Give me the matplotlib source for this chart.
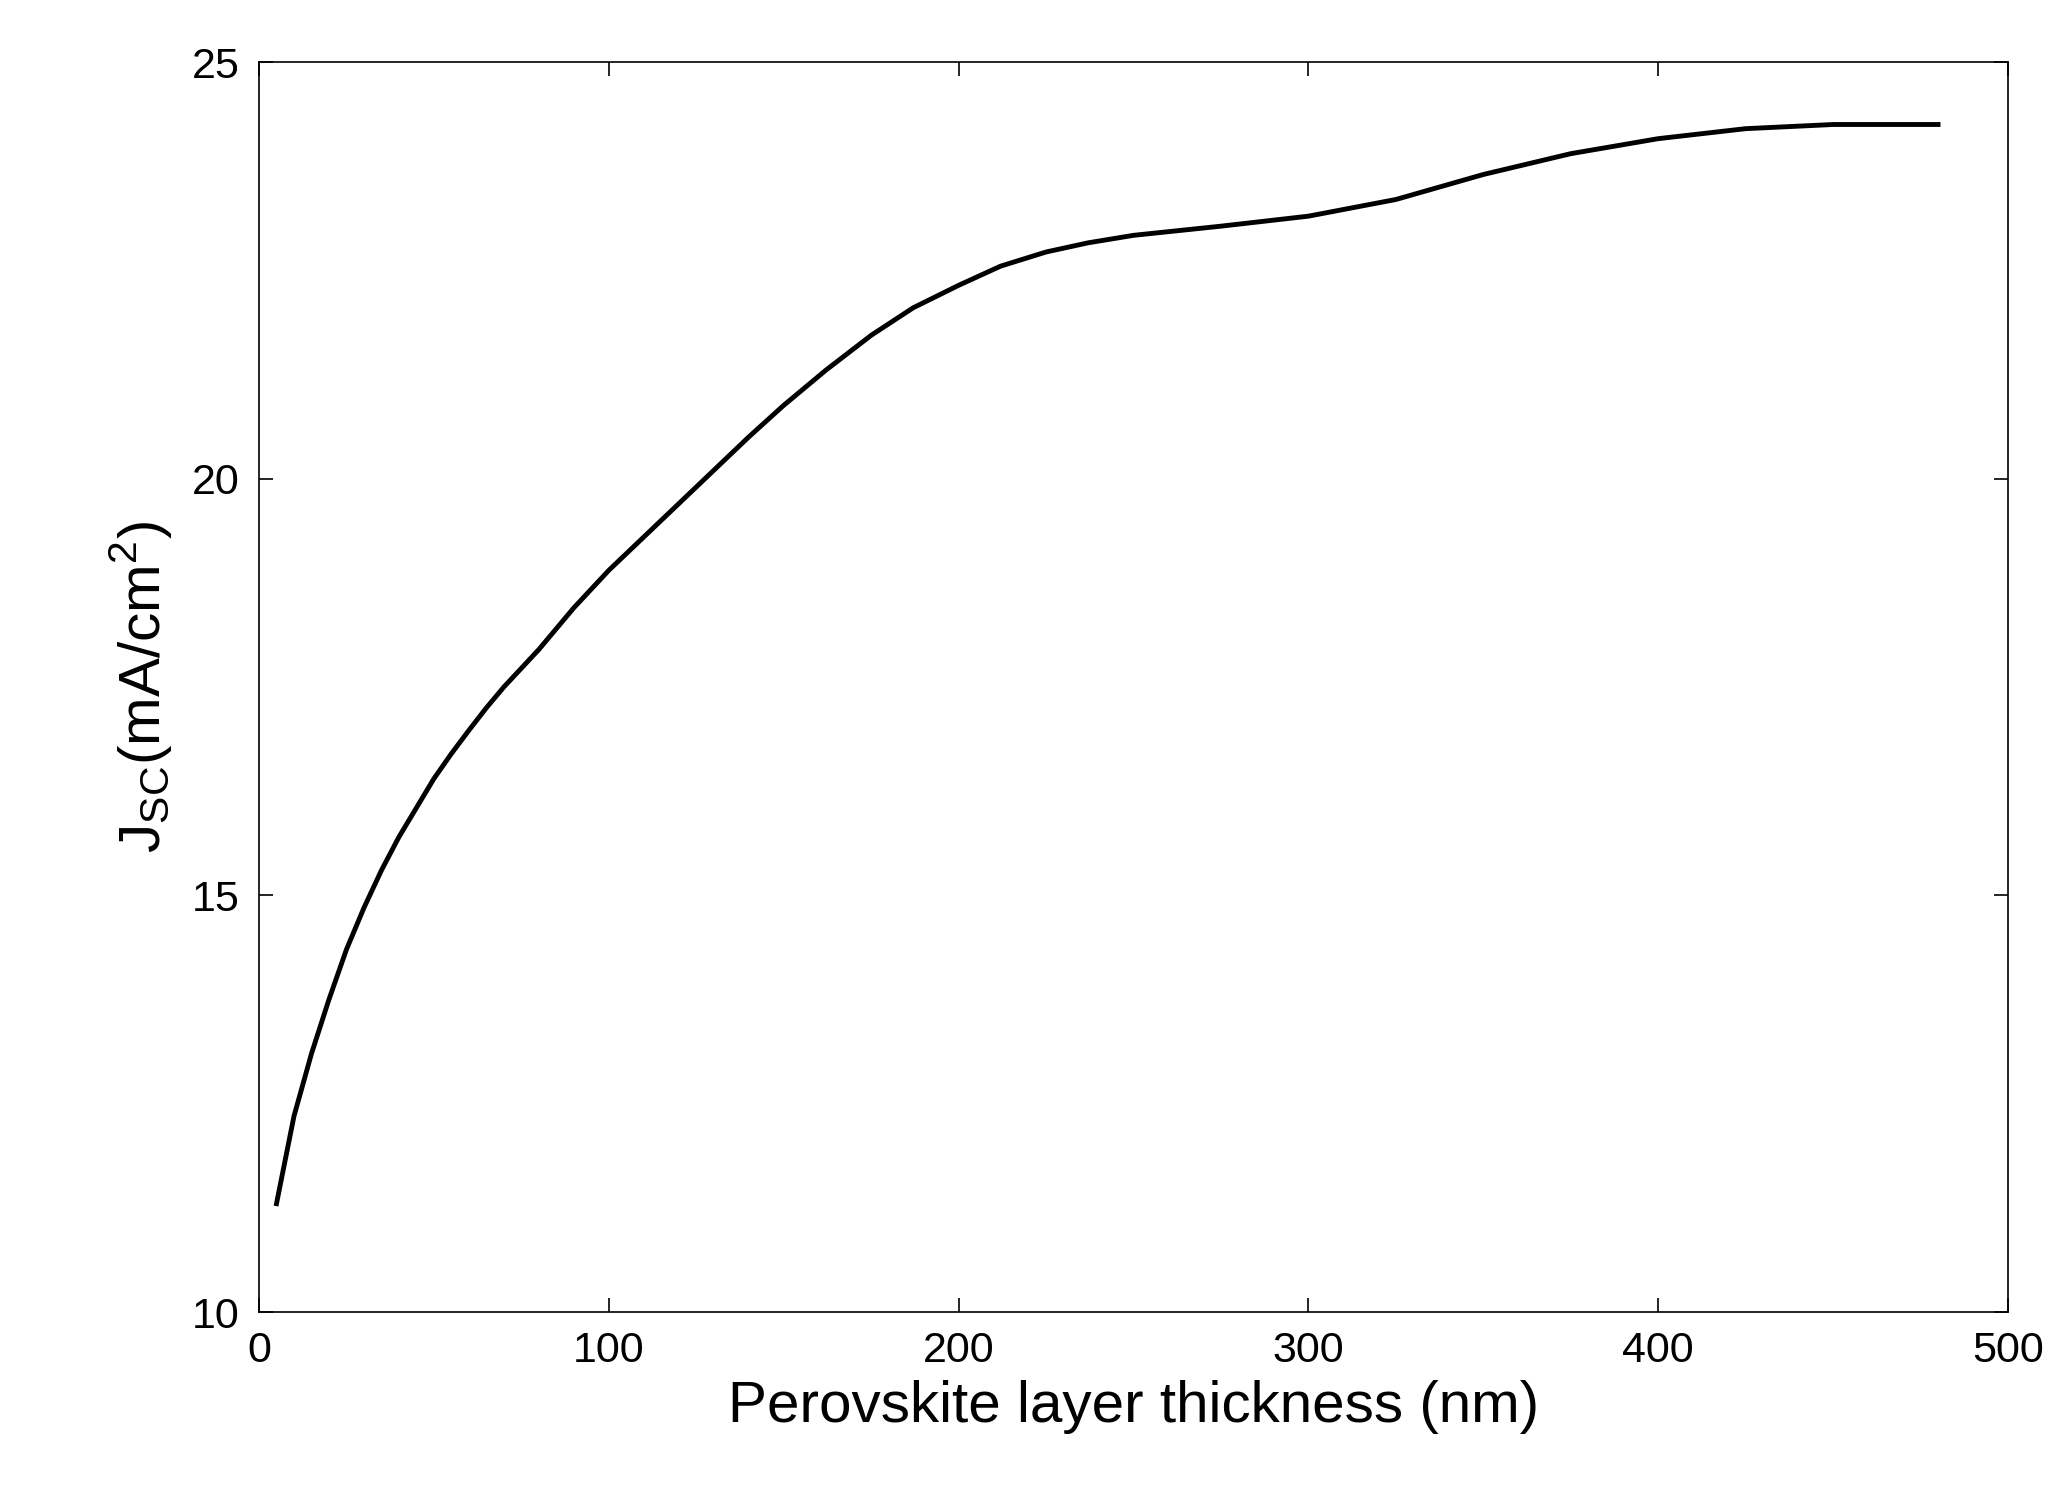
import matplotlib
matplotlib.use("Agg")
import matplotlib.pyplot as plt

plt.rcParams['font.family'] = ['Liberation Sans', 'DejaVu Sans']
plt.rcParams['mathtext.fontset'] = 'custom'
plt.rcParams['mathtext.rm'] = 'Liberation Sans'

thickness = [5, 10, 15, 20, 25, 30, 35, 40, 45, 50, 55, 60, 65, 70, 80, 90, 100, 115, 130, 140, 150,
             162, 175, 187, 200, 212, 225, 237, 250, 275, 300, 325, 350, 375, 400, 425, 450, 480]
jsc = [11.3, 12.35, 13.1, 13.75, 14.35, 14.85, 15.3, 15.7, 16.05, 16.4, 16.7, 16.98, 17.25, 17.5,
       17.95, 18.45, 18.9, 19.5, 20.1, 20.5, 20.88, 21.3, 21.72, 22.05, 22.32, 22.55, 22.72,
       22.83, 22.92, 23.03, 23.15, 23.35, 23.65, 23.9, 24.08, 24.2, 24.25, 24.25]

fig = plt.figure(figsize=(20.64, 15.01), dpi=100)
ax = fig.add_axes([259/2064, 1-1312/1501, (2008-259)/2064, (1312-62)/1501])
ax.plot(thickness, jsc, color='black', lw=3.5)
ax.set_xlim(0, 500)
ax.set_ylim(10, 25)
ax.set_xticks([0, 100, 200, 300, 400, 500])
ax.set_yticks([10, 15, 20, 25])
ax.tick_params(direction='in', top=True, right=True, labelsize=31, length=10, width=1.2, pad=14)
for s in ax.spines.values():
    s.set_linewidth(1.2)
ax.set_xlabel('Perovskite layer thickness (nm)', fontsize=42, labelpad=6)
ax.set_ylabel(r'J$_{\mathrm{SC}}$(mA/cm$^{\mathrm{2}}$)', fontsize=42, labelpad=12)
fig.savefig('out.png', dpi=100, facecolor='white')
